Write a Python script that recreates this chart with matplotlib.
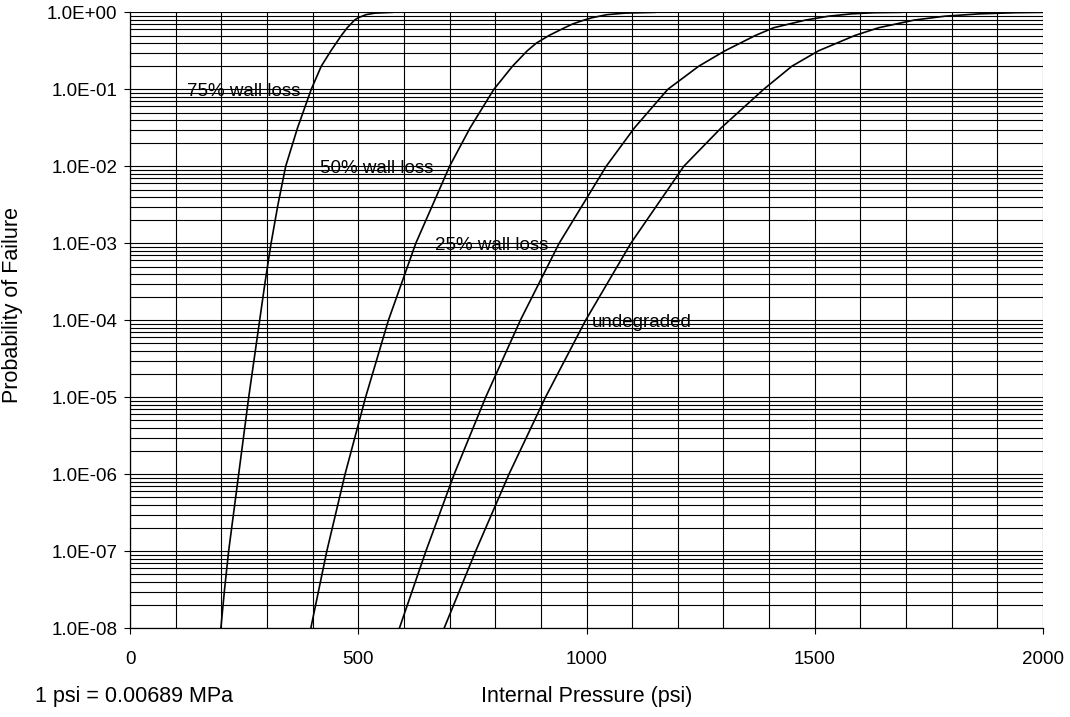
import matplotlib
matplotlib.use("Agg")
import matplotlib.pyplot as plt
from matplotlib.ticker import LogLocator, MultipleLocator, FuncFormatter, NullFormatter

plt.rcParams["font.family"] = ["Liberation Sans", "DejaVu Sans"]

# Failure probability vs internal pressure for each wall condition
p75_psi = [199, 207, 216, 227, 238, 249, 260, 272, 284, 296, 309, 324, 341, 367, 397,
           419, 440, 463, 476, 484, 492, 500, 517, 537, 575]
p75_pf = [1e-8, 3.16e-8, 1e-7, 3.16e-7, 1e-6, 3.16e-6, 1e-5, 3.16e-5, 1e-4, 3.16e-4, 1e-3,
          3.16e-3, 1e-2, 0.0316, 0.1, 0.2, 0.316, 0.501, 0.631, 0.708, 0.794, 0.851,
          0.933, 0.977, 1.0]

p50_psi = [396, 431, 471, 516, 566, 626, 700, 745, 797, 838, 870, 890, 918, 952, 970,
           995, 1012, 1045, 1085, 1150]
p50_pf = [1e-8, 1e-7, 1e-6, 1e-5, 1e-4, 1e-3, 1e-2, 0.0316, 0.1, 0.2, 0.316, 0.398, 0.501,
          0.631, 0.708, 0.794, 0.851, 0.933, 0.977, 1.0]

p25_psi = [590, 648, 710, 779, 855, 940, 1043, 1105, 1178, 1246, 1303, 1370, 1410, 1480,
           1530, 1580, 1630, 1690]
p25_pf = [1e-8, 1e-7, 1e-6, 1e-5, 1e-4, 1e-3, 1e-2, 0.0316, 0.1, 0.2, 0.316, 0.501, 0.631,
          0.794, 0.891, 0.955, 0.989, 1.0]

p0_psi = [688, 757, 830, 910, 998, 1097, 1213, 1295, 1388, 1450, 1508, 1588, 1640, 1718,
          1785, 1860, 1940, 2000]
p0_pf = [1e-8, 1e-7, 1e-6, 1e-5, 1e-4, 1e-3, 1e-2, 0.0316, 0.1, 0.2, 0.316, 0.501, 0.631,
         0.794, 0.891, 0.955, 0.989, 1.0]

curve_labels = ["75% wall loss", "50% wall loss", "25% wall loss", "undegraded"]
label_psi = [125, 416, 668, 1012]
label_pf = [1e-1, 1e-2, 1e-3, 1e-4]

fig = plt.figure(figsize=(10.70, 7.17), dpi=100)
ax = fig.add_axes([0.1215, 0.1237, 0.8533, 0.8591])

for xs, ys in [(p75_psi, p75_pf), (p50_psi, p50_pf), (p25_psi, p25_pf), (p0_psi, p0_pf)]:
    ax.plot(xs, ys, color="black", lw=1.2, zorder=3, solid_joinstyle="round")

ax.set_yscale("log")
ax.set_xlim(0, 2000)
ax.set_ylim(1e-8, 1.0)

ax.xaxis.set_major_locator(MultipleLocator(500))
ax.xaxis.set_minor_locator(MultipleLocator(100))
ax.yaxis.set_major_locator(LogLocator(base=10, numticks=20))
ax.yaxis.set_minor_locator(LogLocator(base=10, subs=range(2, 10), numticks=200))
ax.yaxis.set_major_formatter(FuncFormatter(lambda v, _: "%.1E" % v))
ax.yaxis.set_minor_formatter(NullFormatter())

ax.grid(which="both", axis="both", color="black", lw=0.8)
ax.set_axisbelow(True)

ax.tick_params(axis="both", which="major", direction="out", length=4, width=0.8,
               labelsize=13.5, color="black")
ax.tick_params(axis="x", which="major", pad=12)
ax.tick_params(axis="y", which="major", pad=5)
ax.tick_params(which="minor", length=0)

for sp in ["top", "right"]:
    ax.spines[sp].set_visible(False)
for sp in ["left", "bottom"]:
    ax.spines[sp].set_linewidth(0.9)

for txt, x, y in zip(curve_labels, label_psi, label_pf):
    ax.annotate(txt, xy=(x, y), xytext=(0, -5), textcoords="offset points",
                ha="left", va="baseline", fontsize=13.5, zorder=4)

fig.text(0.012, 0.575, "Probability of Failure", rotation=90, ha="center", va="center",
         fontsize=15.5)
fig.text(0.548, 0.028, "Internal Pressure (psi)", ha="center", va="center", fontsize=15.5)
fig.text(0.033, 0.028, "1 psi = 0.00689 MPa", ha="left", va="center", fontsize=15.5)

fig.savefig("out.png", dpi=100)
